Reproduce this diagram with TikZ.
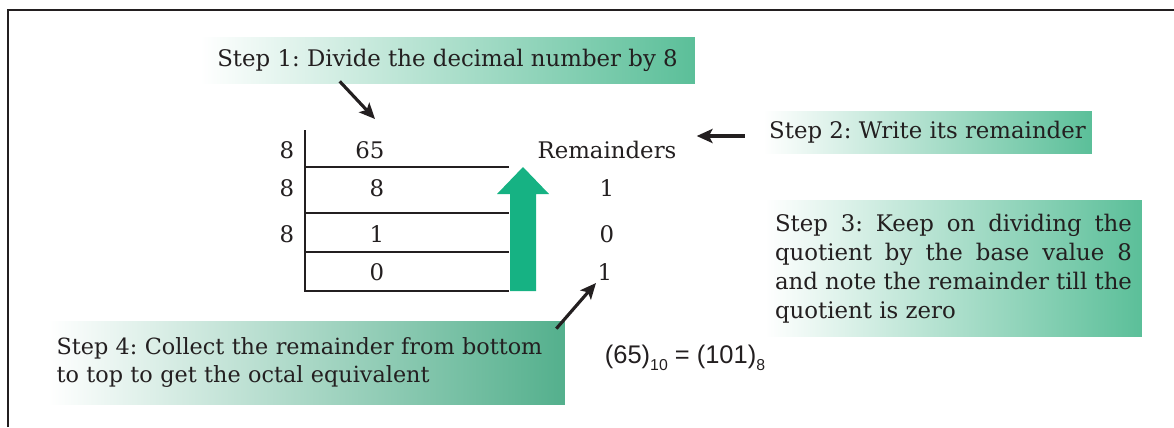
\documentclass[tikz,border=0pt]{standalone}
\usepackage{fontspec}
\setmainfont{DejaVu Serif}
\newfontfamily\eqfont{Liberation Sans}
\usetikzlibrary{arrows.meta,calc}
\definecolor{stepgreen}{RGB}{91,191,153}
\definecolor{arrowgreen}{RGB}{22,178,131}
\definecolor{ink}{RGB}{35,31,32}

\begin{document}
\begin{tikzpicture}[
    x=0.02cm, y=-0.02cm,
    font=\fontsize{13}{16.4}\selectfont\frenchspacing, text=ink,
    note/.style={left color=white, right color=stepgreen, inner sep=0pt},
    num/.style={inner sep=1pt},
    rule/.style={draw=ink, line width=1.1pt},
    arr/.style={-{Stealth[length=9pt,width=8pt,inset=2pt]}, line width=1.8pt, draw=ink}
  ]
  \useasboundingbox (0,0) rectangle (1174,427);
  \draw[line width=1.7pt, draw=ink] (8,427) -- (8,10) -- (1174,10);

  % step notes
  \node[note, minimum width=9.9cm, minimum height=0.92cm] (step1) at (447.5,60)
    {Step 1: Divide the decimal number by 8};
  \node[note, minimum width=6.58cm, minimum height=0.84cm] (step2) at (927.5,132)
    {Step 2: Write its remainder};
  \node[note, minimum height=2.74cm, text width=7.14cm, inner xsep=0.2cm, align=justify] (step3) at (953.5,268.5)
    {Step 3: Keep on dividing the\linebreak quotient by the base value 8\linebreak and note the remainder till the\linebreak quotient is zero};
  \node[note, right color=stepgreen!92!black, minimum height=1.66cm, text width=10cm, inner xsep=0.17cm,
        align=left, font=\fontsize{12.7}{15.6}\selectfont\frenchspacing] (step4) at (306.5,362.5)
    {Step 4: Collect the remainder from bottom\\to top to get the octal equivalent};
  \node[font=\eqfont\fontsize{14.5}{16}\selectfont] (eq) at (685,358)
    {(65)\raisebox{-4pt}{\fontsize{9}{9}\selectfont 10} = (101)\raisebox{-4pt}{\fontsize{9}{9}\selectfont 8}};

  % division table
  \node[num] (d1) at (287,150) {8};
  \node[num] (d2) at (287,188) {8};
  \node[num] (d3) at (287,234) {8};
  \node[num] (q65) at (370,150) {65};
  \node[num] (q8) at (377,188) {8};
  \node[num] (q1) at (377,234) {1};
  \node[num] (q0) at (377,272) {0};
  \node[num] (rem) at (607,150) {Remainders};
  \node[num] (r1) at (607,188) {1};
  \node[num] (r2) at (607,234) {0};
  \node[num] (r3) at (605,272) {1};

  \draw[rule] (305,130) -- (305,291) -- (509,291);
  \foreach \y in {167,213,252}
    \draw[rule] (305,\y) -- (509,\y);

  % collect upwards
  \fill[arrowgreen] (510,291) -- (536,291) -- (536,194) -- (549,194) -- (523,167)
    -- (497,194) -- (510,194) -- cycle;

  \draw[arr] ($(step1.south west)+(140,-2)$) -- ($(q65)+(5,-31)$);
  \draw[arr] ($(step2.west)+(-18,4)$) -- ($(step2.west)+(-66,4)$);
  \draw[arr] ($(step4.north east)+(-9,8)$) -- ($(r3)+(-9,11)$);
\end{tikzpicture}
\end{document}
